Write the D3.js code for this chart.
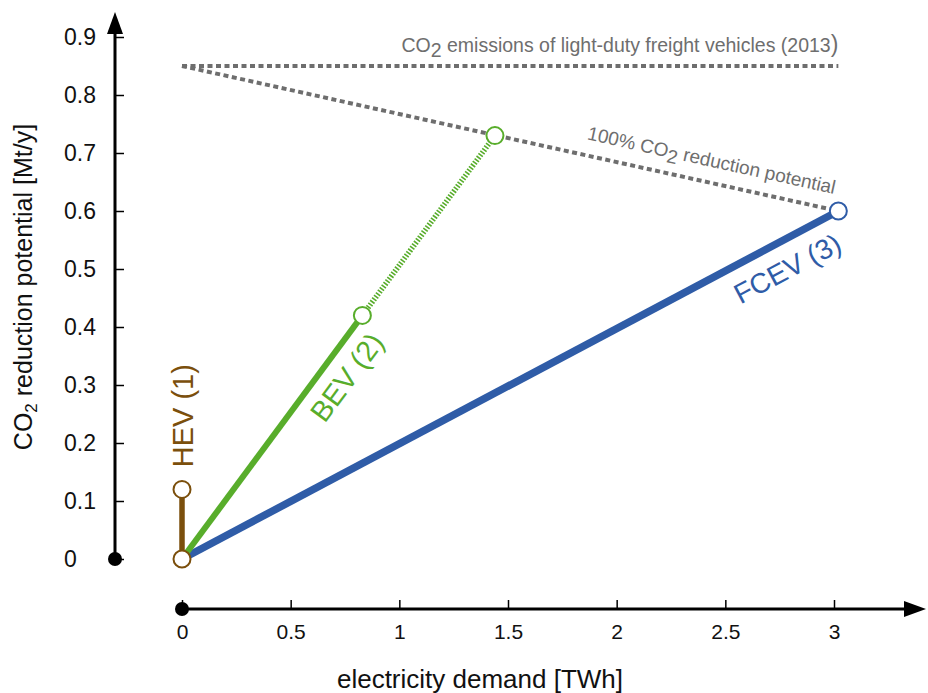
<!DOCTYPE html>
<html>
<head>
<meta charset="utf-8">
<script src="https://cdn.jsdelivr.net/npm/d3@7"></script>
<style>
  html, body { margin: 0; padding: 0; background: #fff; }
  svg { display: block; font-family: "Liberation Sans", Arial, sans-serif; }
</style>
</head>
<body>
<svg id="chart" width="928" height="693"></svg>
<script>
// Tick values
const xTicks = [0, 0.5, 1, 1.5, 2, 2.5, 3];
const yTicks = [0, 0.1, 0.2, 0.3, 0.4, 0.5, 0.6, 0.7, 0.8, 0.9];

// Vehicle pathways: [electricity demand TWh, CO2 reduction Mt/y]
const hevPoints = [[0, 0], [0, 0.12]];
const bevPoints = [[0, 0], [0.83, 0.42]];
const bevExtension = [[0.83, 0.42], [1.44, 0.73]];
const fcevPoints = [[0, 0], [3.02, 0.60]];

// Reference lines
const emissions2013 = [[0, 0.85], [3.02, 0.85]];
const fullReduction = [[0, 0.85], [3.02, 0.60]];

const colors = { hev: "#7b4f0c", bev: "#58ad2b", fcev: "#2f5ca7", ref: "#6e6e6e" };
const narrow = "Liberation Sans Narrow, Arial Narrow, Liberation Sans, sans-serif";

const svg = d3.select("#chart");
const x = d3.scaleLinear().domain([0, 3]).range([182, 834]);
const y = d3.scaleLinear().domain([0, 0.9]).range([559, 37]);
const line = d3.line().x(d => x(d[0])).y(d => y(d[1]));

// ---- Axes ----
const yAxisX = 115, xAxisY = 609;

const yAxis = d3.axisLeft(y).tickValues(yTicks).tickSizeInner(-9).tickSizeOuter(0)
  .tickFormat(d => d === 0 ? "0" : d3.format(".1f")(d));
const gy = svg.append("g").attr("transform", `translate(${yAxisX},0)`).call(yAxis);
gy.select(".domain").remove();
gy.selectAll(".tick line").attr("stroke", "#000").attr("stroke-width", 1.5);
gy.selectAll(".tick text").attr("x", -51).attr("text-anchor", "start")
  .attr("font-size", 23).attr("font-family", "Liberation Sans, Arial, sans-serif").attr("fill", "#111");

const xAxis = d3.axisBottom(x).tickValues(xTicks).tickSizeInner(-9).tickSizeOuter(0).tickPadding(15)
  .tickFormat(d3.format("~g"));
const gx = svg.append("g").attr("transform", `translate(0,${xAxisY})`).call(xAxis);
gx.select(".domain").remove();
gx.selectAll(".tick line").attr("stroke", "#000").attr("stroke-width", 1.5);
gx.selectAll(".tick text").attr("font-size", 21).attr("font-family", narrow).attr("fill", "#111");

// axis lines with arrowheads and origin dots
svg.append("line").attr("x1", yAxisX).attr("x2", yAxisX).attr("y1", y(0)).attr("y2", 30)
  .attr("stroke", "#000").attr("stroke-width", 3);
svg.append("path").attr("d", `M${yAxisX},12 L${yAxisX - 8},34 L${yAxisX + 8},34 Z`).attr("fill", "#000");
svg.append("circle").attr("cx", yAxisX).attr("cy", y(0)).attr("r", 7).attr("fill", "#000");

svg.append("line").attr("x1", x(0)).attr("x2", 906).attr("y1", xAxisY).attr("y2", xAxisY)
  .attr("stroke", "#000").attr("stroke-width", 3);
svg.append("path").attr("d", `M926,${xAxisY} L904,${xAxisY - 8} L904,${xAxisY + 8} Z`).attr("fill", "#000");
svg.append("circle").attr("cx", x(0)).attr("cy", xAxisY).attr("r", 7).attr("fill", "#000");

// axis titles
svg.append("text").attr("x", 480).attr("y", 688).attr("text-anchor", "middle")
  .attr("font-size", 26).attr("font-family", narrow)
  .attr("fill", "#111").text("electricity demand [TWh]");

const yTitle = svg.append("text").attr("transform", "translate(32,287) rotate(-90)")
  .attr("text-anchor", "middle").attr("font-size", 25).attr("fill", "#111");
yTitle.append("tspan").text("CO");
yTitle.append("tspan").attr("font-size", 17).attr("dy", 5).text("2");
yTitle.append("tspan").attr("dy", -5).text(" reduction potential [Mt/y]");

// ---- Reference lines ----
[emissions2013, fullReduction].forEach(pts => {
  svg.append("path").attr("d", line(pts)).attr("fill", "none")
    .attr("stroke", colors.ref).attr("stroke-width", 4).attr("stroke-dasharray", "5,3.5");
});

const topLabel = svg.append("text").attr("x", x(3.02)).attr("y", 52).attr("text-anchor", "end")
  .attr("font-size", 19.5).attr("fill", colors.ref);
topLabel.append("tspan").text("CO");
topLabel.append("tspan").attr("dy", 5).text("2");
topLabel.append("tspan").attr("dy", -5).text(" emissions of light-duty freight vehicles (2013");
topLabel.append("tspan").attr("font-size", 23).attr("dy", 0).text(")");

const angle = (a, b) => Math.atan2(y(b[1]) - y(a[1]), x(b[0]) - x(a[0])) * 180 / Math.PI;

const refAngle = angle(fullReduction[0], fullReduction[1]);
const refLabel = svg.append("text")
  .attr("transform", `translate(${x(3.0)},${y(0.6) - 17}) rotate(${refAngle})`)
  .attr("text-anchor", "end").attr("font-size", 19).attr("fill", colors.ref);
refLabel.append("tspan").text("100% CO");
refLabel.append("tspan").attr("dy", 5).text("2");
refLabel.append("tspan").attr("dy", -5).text(" reduction potential");

// ---- Vehicle pathways ----
svg.append("path").attr("d", line(fcevPoints)).attr("fill", "none")
  .attr("stroke", colors.fcev).attr("stroke-width", 7.5);
svg.append("path").attr("d", line(bevExtension)).attr("fill", "none")
  .attr("stroke", colors.bev).attr("stroke-width", 5.5).attr("stroke-dasharray", "1.6,1.6");
svg.append("path").attr("d", line(bevPoints)).attr("fill", "none")
  .attr("stroke", colors.bev).attr("stroke-width", 6);
svg.append("path").attr("d", line(hevPoints)).attr("fill", "none")
  .attr("stroke", colors.hev).attr("stroke-width", 5.5);

// end-point markers
const markers = [
  { p: fcevPoints[1], c: colors.fcev },
  { p: bevExtension[1], c: colors.bev },
  { p: bevPoints[1], c: colors.bev },
  { p: hevPoints[1], c: colors.hev },
  { p: hevPoints[0], c: colors.hev }
];
svg.selectAll(".marker").data(markers).join("circle")
  .attr("cx", d => x(d.p[0])).attr("cy", d => y(d.p[1])).attr("r", 8.5)
  .attr("fill", "#fff").attr("stroke", d => d.c).attr("stroke-width", 2);

// pathway labels
svg.append("text").attr("transform", `translate(${x(0) + 11},${y(0.247)}) rotate(-90)`)
  .attr("text-anchor", "middle").attr("font-size", 29).attr("fill", colors.hev).text("HEV (1)");

const bevAngle = angle(bevPoints[0], bevPoints[1]);
svg.append("text").attr("transform", `translate(${x(0.796)},${y(0.303)}) rotate(${bevAngle})`)
  .attr("text-anchor", "middle").attr("font-size", 29).attr("fill", colors.bev).text("BEV (2)");

const fcevAngle = angle(fcevPoints[0], fcevPoints[1]);
svg.append("text").attr("transform", `translate(${x(2.807)},${y(0.486)}) rotate(${fcevAngle})`)
  .attr("text-anchor", "middle").attr("font-size", 28).attr("fill", colors.fcev).text("FCEV (3)");
</script>
</body>
</html>
